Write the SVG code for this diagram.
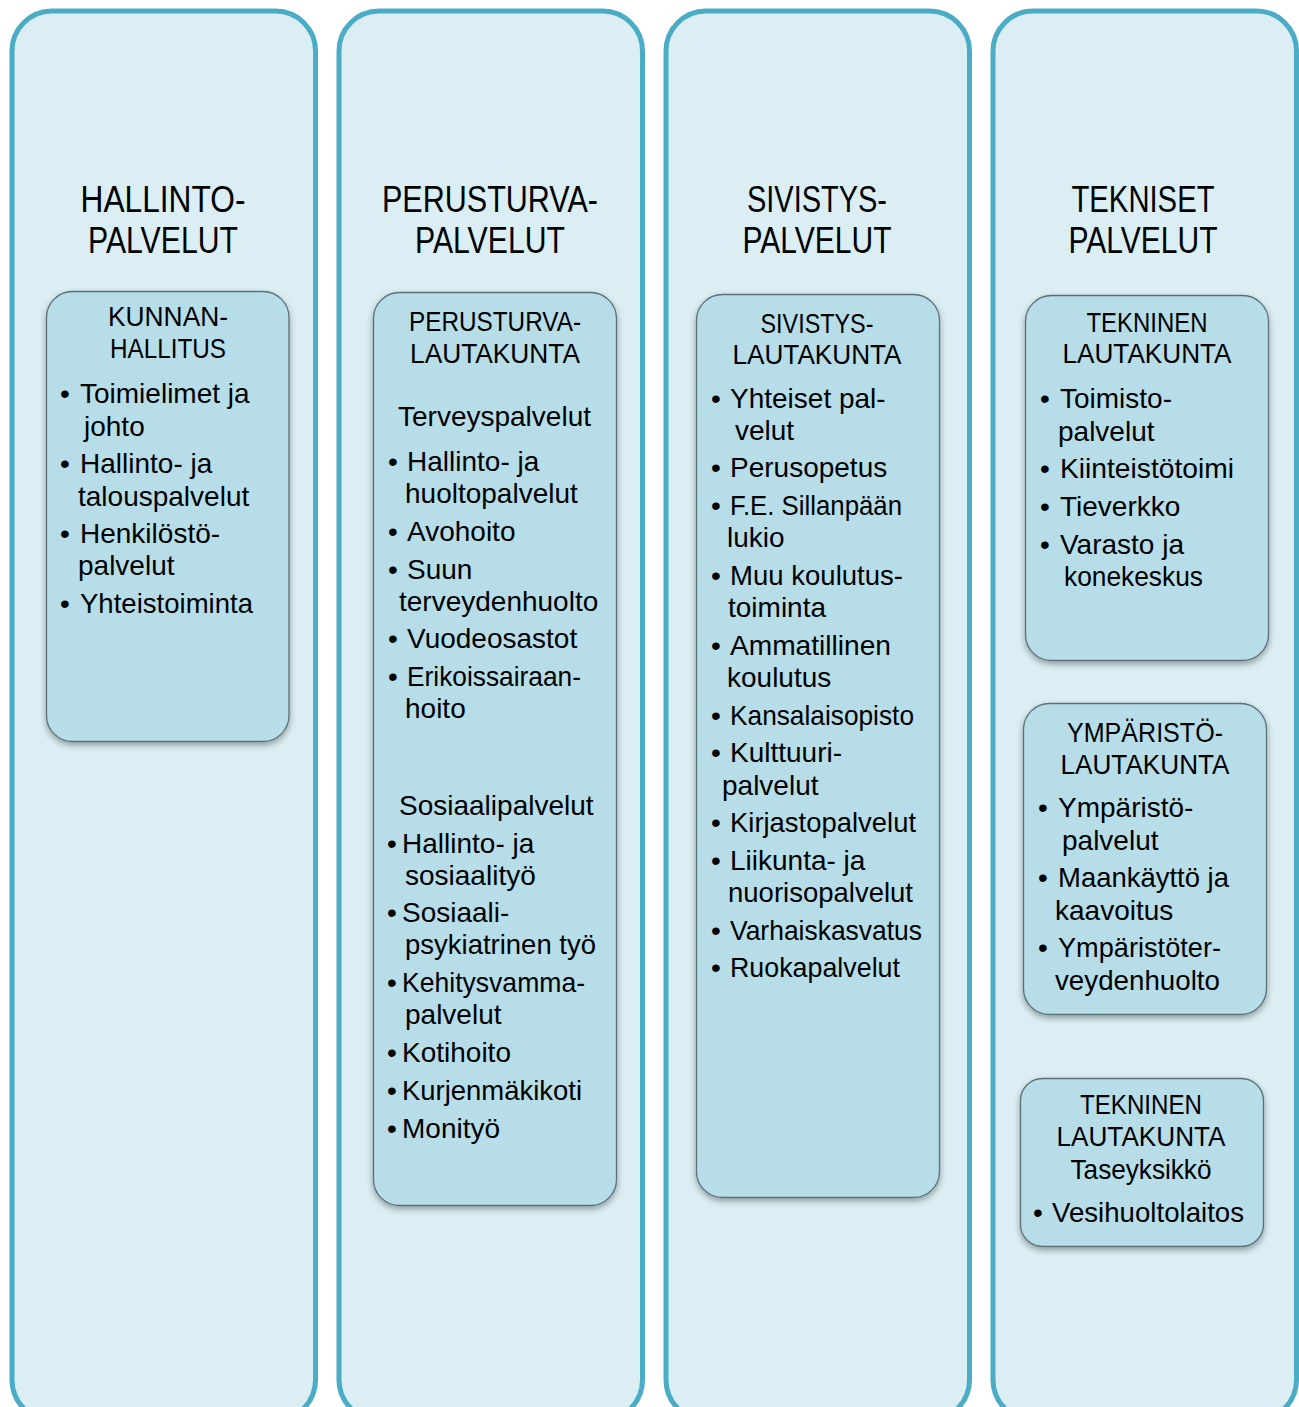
<svg xmlns="http://www.w3.org/2000/svg" width="1299" height="1407" viewBox="0 0 1299 1407">
<style>
.col{fill:#daeef3;stroke:#4bacc6;stroke-width:5}
.box{fill:#b7dde8;stroke:#5b6f78;stroke-width:1.3;filter:url(#sh)}
text{font-family:"Liberation Sans",Arial,sans-serif;fill:#000}
.h{font-size:37px;text-anchor:middle}
.t{font-size:28px;text-anchor:middle}
.b{font-size:28px}
</style>
<defs>
<filter id="sh" x="-10%" y="-10%" width="120%" height="120%">
<feDropShadow dx="0" dy="3" stdDeviation="3" flood-color="#000" flood-opacity="0.35"/>
</filter>
</defs>
<g id="columns">
<rect class="col" x="12" y="11" width="303.5" height="1409" rx="40"/>
<rect class="col" x="339" y="11" width="303.5" height="1409" rx="40"/>
<rect class="col" x="666" y="11" width="303.5" height="1409" rx="40"/>
<rect class="col" x="993" y="11" width="303.5" height="1409" rx="40"/>
</g>
<g id="headers">
<text class="h" x="163" y="212" textLength="165" lengthAdjust="spacingAndGlyphs">HALLINTO-</text>
<text class="h" x="163" y="253" textLength="150" lengthAdjust="spacingAndGlyphs">PALVELUT</text>
<text class="h" x="490" y="212" textLength="216" lengthAdjust="spacingAndGlyphs">PERUSTURVA-</text>
<text class="h" x="490" y="253" textLength="150" lengthAdjust="spacingAndGlyphs">PALVELUT</text>
<text class="h" x="817" y="212" textLength="140" lengthAdjust="spacingAndGlyphs">SIVISTYS-</text>
<text class="h" x="817" y="253" textLength="149" lengthAdjust="spacingAndGlyphs">PALVELUT</text>
<text class="h" x="1143" y="212" textLength="143" lengthAdjust="spacingAndGlyphs">TEKNISET</text>
<text class="h" x="1143" y="253" textLength="149" lengthAdjust="spacingAndGlyphs">PALVELUT</text>
</g>
<g id="kunnanhallitus">
<rect class="box" x="46.5" y="291.5" width="242.5" height="450" rx="26"/>
<text class="t" x="168" y="326" textLength="120" lengthAdjust="spacingAndGlyphs">KUNNAN-</text>
<text class="t" x="168" y="358" textLength="116" lengthAdjust="spacingAndGlyphs">HALLITUS</text>
<text class="b" x="60" y="403">•</text><text class="b" x="80" y="403">Toimielimet ja</text>
<text class="b" x="84" y="436">johto</text>
<text class="b" x="60" y="473">•</text><text class="b" x="80" y="473">Hallinto- ja</text>
<text class="b" x="78" y="506">talouspalvelut</text>
<text class="b" x="60" y="543">•</text><text class="b" x="80" y="543">Henkilöstö-</text>
<text class="b" x="78" y="575">palvelut</text>
<text class="b" x="60" y="613">•</text><text class="b" x="80" y="613" textLength="173" lengthAdjust="spacingAndGlyphs">Yhteistoiminta</text>
</g>
<g id="perusturvalautakunta">
<rect class="box" x="373.5" y="292.5" width="243" height="913" rx="26"/>
<text class="t" x="495" y="331" textLength="172" lengthAdjust="spacingAndGlyphs">PERUSTURVA-</text>
<text class="t" x="495" y="363" textLength="170" lengthAdjust="spacingAndGlyphs">LAUTAKUNTA</text>
<text class="b" x="398" y="426">Terveyspalvelut</text>
<text class="b" x="388" y="471">•</text><text class="b" x="407" y="471">Hallinto- ja</text>
<text class="b" x="405" y="503">huoltopalvelut</text>
<text class="b" x="388" y="541">•</text><text class="b" x="407" y="541">Avohoito</text>
<text class="b" x="388" y="579">•</text><text class="b" x="407" y="579">Suun</text>
<text class="b" x="399" y="611">terveydenhuolto</text>
<text class="b" x="388" y="648">•</text><text class="b" x="407" y="648">Vuodeosastot</text>
<text class="b" x="388" y="686">•</text><text class="b" x="407" y="686" textLength="174" lengthAdjust="spacingAndGlyphs">Erikoissairaan-</text>
<text class="b" x="405" y="718">hoito</text>
<text class="b" x="399" y="815">Sosiaalipalvelut</text>
<text class="b" x="387" y="853">•</text><text class="b" x="402" y="853">Hallinto- ja</text>
<text class="b" x="405" y="885">sosiaalityö</text>
<text class="b" x="387" y="922">•</text><text class="b" x="402" y="922">Sosiaali-</text>
<text class="b" x="405" y="954" textLength="191" lengthAdjust="spacingAndGlyphs">psykiatrinen työ</text>
<text class="b" x="387" y="992">•</text><text class="b" x="402" y="992" textLength="183" lengthAdjust="spacingAndGlyphs">Kehitysvamma-</text>
<text class="b" x="405" y="1024">palvelut</text>
<text class="b" x="387" y="1062">•</text><text class="b" x="402" y="1062">Kotihoito</text>
<text class="b" x="387" y="1100">•</text><text class="b" x="402" y="1100" textLength="180" lengthAdjust="spacingAndGlyphs">Kurjenmäkikoti</text>
<text class="b" x="387" y="1138">•</text><text class="b" x="402" y="1138">Monityö</text>
</g>
<g id="sivistyslautakunta">
<rect class="box" x="696.5" y="294.5" width="243" height="903" rx="26"/>
<text class="t" x="817" y="333" textLength="113" lengthAdjust="spacingAndGlyphs">SIVISTYS-</text>
<text class="t" x="817" y="364" textLength="169" lengthAdjust="spacingAndGlyphs">LAUTAKUNTA</text>
<text class="b" x="711" y="408">•</text><text class="b" x="730" y="408">Yhteiset pal-</text>
<text class="b" x="735" y="440">velut</text>
<text class="b" x="711" y="477">•</text><text class="b" x="730" y="477">Perusopetus</text>
<text class="b" x="711" y="515">•</text><text class="b" x="730" y="515" textLength="172" lengthAdjust="spacingAndGlyphs">F.E. Sillanpään</text>
<text class="b" x="727" y="547">lukio</text>
<text class="b" x="711" y="585">•</text><text class="b" x="730" y="585" textLength="173" lengthAdjust="spacingAndGlyphs">Muu koulutus-</text>
<text class="b" x="728" y="617">toiminta</text>
<text class="b" x="711" y="655">•</text><text class="b" x="730" y="655" textLength="161" lengthAdjust="spacingAndGlyphs">Ammatillinen</text>
<text class="b" x="727" y="687">koulutus</text>
<text class="b" x="711" y="725">•</text><text class="b" x="730" y="725" textLength="184" lengthAdjust="spacingAndGlyphs">Kansalaisopisto</text>
<text class="b" x="711" y="762">•</text><text class="b" x="730" y="762">Kulttuuri-</text>
<text class="b" x="722" y="795">palvelut</text>
<text class="b" x="711" y="832">•</text><text class="b" x="730" y="832" textLength="186" lengthAdjust="spacingAndGlyphs">Kirjastopalvelut</text>
<text class="b" x="711" y="870">•</text><text class="b" x="730" y="870">Liikunta- ja</text>
<text class="b" x="728" y="902" textLength="185" lengthAdjust="spacingAndGlyphs">nuorisopalvelut</text>
<text class="b" x="711" y="940">•</text><text class="b" x="730" y="940" textLength="192" lengthAdjust="spacingAndGlyphs">Varhaiskasvatus</text>
<text class="b" x="711" y="977">•</text><text class="b" x="730" y="977" textLength="170" lengthAdjust="spacingAndGlyphs">Ruokapalvelut</text>
</g>
<g id="tekninenlautakunta">
<rect class="box" x="1025.5" y="295.5" width="243" height="365" rx="26"/>
<text class="t" x="1147" y="332" textLength="121" lengthAdjust="spacingAndGlyphs">TEKNINEN</text>
<text class="t" x="1147" y="363" textLength="169" lengthAdjust="spacingAndGlyphs">LAUTAKUNTA</text>
<text class="b" x="1040" y="408">•</text><text class="b" x="1060" y="408">Toimisto-</text>
<text class="b" x="1058" y="441">palvelut</text>
<text class="b" x="1040" y="478">•</text><text class="b" x="1060" y="478" textLength="174" lengthAdjust="spacingAndGlyphs">Kiinteistötoimi</text>
<text class="b" x="1040" y="516">•</text><text class="b" x="1060" y="516">Tieverkko</text>
<text class="b" x="1040" y="554">•</text><text class="b" x="1060" y="554">Varasto ja</text>
<text class="b" x="1064" y="586" textLength="139" lengthAdjust="spacingAndGlyphs">konekeskus</text>
</g>
<g id="ymparistolautakunta">
<rect class="box" x="1023.5" y="703.5" width="243" height="311" rx="26"/>
<text class="t" x="1145" y="742" textLength="156" lengthAdjust="spacingAndGlyphs">YMPÄRISTÖ-</text>
<text class="t" x="1145" y="774" textLength="169" lengthAdjust="spacingAndGlyphs">LAUTAKUNTA</text>
<text class="b" x="1038" y="817">•</text><text class="b" x="1058" y="817">Ympäristö-</text>
<text class="b" x="1062" y="850">palvelut</text>
<text class="b" x="1038" y="887">•</text><text class="b" x="1058" y="887" textLength="171" lengthAdjust="spacingAndGlyphs">Maankäyttö ja</text>
<text class="b" x="1055" y="920">kaavoitus</text>
<text class="b" x="1038" y="957">•</text><text class="b" x="1058" y="957" textLength="163" lengthAdjust="spacingAndGlyphs">Ympäristöter-</text>
<text class="b" x="1055" y="990" textLength="165" lengthAdjust="spacingAndGlyphs">veydenhuolto</text>
</g>
<g id="taseyksikko">
<rect class="box" x="1020.5" y="1078.5" width="243" height="168" rx="22"/>
<text class="t" x="1141" y="1114" textLength="122" lengthAdjust="spacingAndGlyphs">TEKNINEN</text>
<text class="t" x="1141" y="1146" textLength="169" lengthAdjust="spacingAndGlyphs">LAUTAKUNTA</text>
<text class="t" x="1141" y="1179" textLength="141" lengthAdjust="spacingAndGlyphs">Taseyksikkö</text>
<text class="b" x="1033" y="1222">•</text><text class="b" x="1052" y="1222" textLength="192" lengthAdjust="spacingAndGlyphs">Vesihuoltolaitos</text>
</g>
<g id="connectors"></g>
</svg>
